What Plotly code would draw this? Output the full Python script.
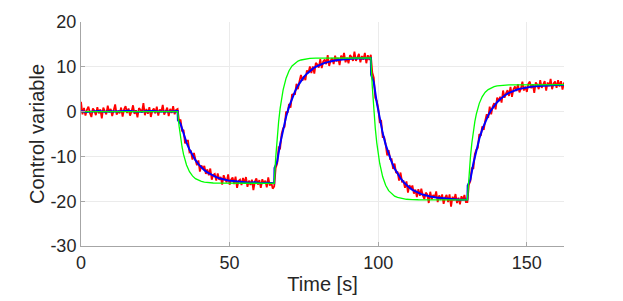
import numpy as np
import plotly.graph_objects as go

# ---- data ----
# noisy measured signal (red), sampled every 0.5 s from 0 to 162.5 s
red_t = np.arange(0, 162.75, 0.5)
red_s1 = [2.2, -0.6, 0.8, -0.9, 0.4, 1.1, -0.3, -1.2, 0.7, 0.2,
          -0.8, 1.0, -0.4, 0.5, -1.5, 0.9, 0.1, -0.6, 1.3, -0.2,
          0.6, -1.0, 0.3, 1.6, -0.7, 0.2, -0.4, 0.9, -1.1, 0.5,
          1.2, -0.3, 0.7, -0.9, 0.0, 1.4, -0.5, 0.3, -1.3, 0.8,
          0.4, -0.2, 1.9, -0.8, 0.6, -0.5, 1.0, -1.2, 0.2, 0.7,
          -0.4, 1.1, -0.9, 0.5, -0.1, 1.5, -0.7, 0.3, 0.9, -1.0,
          0.6, -0.3, 1.2, -0.6, 0.4]
red_s2 = [0.6, -2.2, -1.8, -4.4, -4.1, -7.1, -6.5, -6.5, -9.1, -8.9,
          -10.7, -9.2, -10.7, -12.0, -10.9, -13.4, -12.0, -12.8, -12.1, -13.9,
          -12.9, -14.2, -12.7, -15.2, -14.1, -13.9, -15.4, -13.8, -15.2, -14.6,
          -16.3, -14.2, -15.1, -15.8, -14.0, -16.3, -15.2, -14.7, -16.2, -14.5,
          -17.0, -15.5, -15.2, -16.4, -14.8, -16.0, -14.6, -16.8, -15.4, -16.4,
          -15.2, -17.5, -15.6, -14.9, -16.3, -15.3, -17.0, -15.1, -16.1, -15.4,
          -16.9, -14.7, -16.5, -15.8, -17.2]
red_s3 = [-16.7, -12.6, -11.6, -8.0, -8.2, -5.0, -3.7, -3.4, 0.0, -0.3,
          1.7, 0.9, 3.8, 3.9, 3.9, 6.2, 5.0, 6.8, 8.2, 6.9,
          7.9, 7.0, 9.2, 8.6, 10.1, 8.6, 10.1, 8.5, 10.9, 10.5,
          9.8, 11.7, 9.7, 11.2, 11.6, 10.6, 12.6, 10.2, 11.4, 11.9,
          10.6, 12.5, 11.2, 12.0, 10.4, 12.5, 11.6, 13.1, 11.0, 12.0,
          10.8, 12.6, 12.2, 11.3, 13.4, 11.3, 12.1, 12.9, 11.0, 12.4,
          11.6, 13.1, 10.8, 12.6, 11.5]
red_s4 = [12.7, 8.7, 7.6, 3.1, 2.4, 0.8, -2.3, -2.1, -5.7, -5.7,
          -7.3, -9.8, -8.6, -10.6, -10.6, -12.8, -11.6, -13.7, -13.4, -15.4,
          -13.6, -15.6, -15.5, -17.0, -15.6, -18.1, -16.4, -17.2, -16.5, -18.3,
          -17.4, -19.1, -17.3, -18.8, -17.2, -18.7, -19.5, -18.1, -18.5, -20.4,
          -17.9, -19.6, -18.6, -19.2, -17.8, -20.2, -18.7, -19.7, -18.5, -20.6,
          -19.2, -18.6, -20.2, -18.5, -21.2, -19.0, -19.8, -18.4, -20.4, -19.2,
          -20.7, -18.9, -19.8, -18.6, -20.2]
red_s5 = [-20.2, -16.3, -15.5, -12.5, -12.8, -9.5, -8.5, -8.1, -5.0, -5.4,
          -3.3, -4.1, -2.0, -0.6, -1.4, 1.1, -0.6, 1.1, 1.9, 0.5,
          3.1, 2.3, 3.3, 2.0, 4.7, 3.1, 4.1, 4.8, 3.5, 5.5,
          3.3, 5.0, 5.6, 4.6, 6.1, 4.3, 5.1, 6.7, 4.7, 5.6,
          4.4, 6.2, 6.7, 5.2, 6.1, 4.2, 6.5, 6.0, 5.0, 7.0,
          5.3, 6.0, 6.8, 4.7, 6.5, 5.7, 7.3, 5.0, 6.3, 6.7,
          5.3, 7.0, 5.6, 6.8, 4.9, 6.5]
red_y = red_s1 + red_s2 + red_s3 + red_s4 + red_s5

# filtered signal (blue)
blue_t = [0, 2, 4, 6, 8, 10, 12, 14, 16, 18, 20, 22, 24, 26, 28, 30, 32.5,
          32.6, 33.5, 34.5, 35.5, 36.5, 37.5, 38.5, 39.5, 40.5, 41.5, 42.5, 43.5,
          44.5, 45.5, 46.5, 47.5, 48.5, 49.5, 50.5, 51.5, 52.5, 54.5, 56.5, 58.5,
          60.5, 62.5, 65,
          65.1, 66, 67, 68, 69, 70, 71, 72, 73, 74, 75, 76, 77, 78, 79, 80, 81,
          82, 83, 84, 85, 87, 89, 91, 93, 95, 97.5,
          97.6, 98.5, 99.5, 100.5, 101.5, 102.5, 103.5, 104.5, 105.5, 106.5,
          107.5, 108.5, 109.5, 110.5, 111.5, 112.5, 113.5, 114.5, 115.5, 116.5,
          117.5, 119.5, 121.5, 123.5, 125.5, 127.5, 130,
          130.1, 131, 132, 133, 134, 135, 136, 137, 138, 139, 140, 141, 142, 143,
          144, 145, 146, 147, 148, 149, 150, 152, 154, 156, 158, 160, 162.5]
blue_y = [0.1, -0.1, 0.05, 0.15, -0.05, 0.1, 0.0, 0.1, 0.2, 0.05, -0.05, 0.1, 0.15, 0.0, 0.1, 0.05, 0.1,
          -1.9, -2.75, -5.02, -6.91, -8.48, -9.78, -10.85, -11.73, -12.46, -13.07, -13.57, -13.98,
          -14.34, -14.62, -14.86, -15.06, -15.22, -15.36, -15.46, -15.55, -15.63, -15.7, -15.9, -15.8,
          -16.0, -15.9, -16.0,
          -12.6, -11.18, -7.21, -3.90, -1.16, 1.11, 2.98, 4.52, 5.81, 6.88, 7.74, 8.47, 9.09, 9.59, 10.01, 10.35, 10.63,
          10.88, 11.05, 11.22, 11.36, 11.55, 11.69, 11.8, 11.9, 11.85, 11.95,
          8.2, 6.55, 2.05, -1.69, -4.80, -7.37, -9.49, -11.24, -12.69, -13.90,
          -14.88, -15.71, -16.40, -16.97, -17.45, -17.83, -18.15, -18.43, -18.62, -18.81,
          -18.97, -19.19, -19.35, -19.5, -19.55, -19.65, -19.6,
          -16.5, -15.22, -11.58, -8.56, -6.05, -3.97, -2.25, -0.84, 0.34, 1.31, 2.10, 2.77, 3.33, 3.80,
          4.18, 4.49, 4.74, 4.97, 5.13, 5.28, 5.41, 5.59, 5.72, 5.85, 5.9, 5.95, 5.95]

# reference model response (green)
green_t = [0, 32.5,
           33, 33.5, 34, 34.5, 35, 35.5, 36.5, 37.5, 38.5, 39.5, 40.5, 41.5, 42.5, 44.5, 46.5, 65,
           65.5, 66, 66.5, 67, 67.5, 68, 69, 70, 71, 72, 73, 74, 75, 77, 79, 97.5,
           98, 98.5, 99, 99.5, 100, 100.5, 101.5, 102.5, 103.5, 104.5, 105.5, 106.5, 107.5, 109.5, 111.5, 113.5, 130,
           130.5, 131, 131.5, 132, 132.5, 133, 134, 135, 136, 137, 138, 139, 140, 142, 144, 146, 162.5]
green_y = [0, 0,
           -3.25, -5.84, -7.90, -9.55, -10.86, -11.90, -13.41, -14.35, -14.96, -15.33, -15.58, -15.73, -15.82, -15.94, -15.97, -16,
           -10.32, -5.78, -2.17, 0.72, 3.01, 4.83, 7.46, 9.12, 10.18, 10.82, 11.27, 11.52, 11.69, 11.89, 11.94, 12,
           5.56, 0.43, -3.66, -6.92, -9.52, -11.58, -14.56, -16.43, -17.64, -18.37, -18.88, -19.16, -19.35, -19.57, -19.64, -19.68, -19.7,
           -14.48, -10.32, -7.00, -4.36, -2.25, -0.58, 1.84, 3.35, 4.33, 4.92, 5.33, 5.56, 5.72, 5.90, 5.95, 5.98, 6]

x_ticks = [0, 50, 100, 150]
x_labels = ["0", "50", "100", "150"]
y_ticks = [-30, -20, -10, 0, 10, 20]
y_labels = ["-30", "-20", "-10", "0", "10", "20"]

# ---- figure ----
fig = go.Figure()
fig.add_trace(go.Scatter(x=red_t, y=red_y, mode="lines",
                         line=dict(color="#ff0000", width=1.8), hoverinfo="skip"))
fig.add_trace(go.Scatter(x=blue_t, y=blue_y, mode="lines",
                         line=dict(color="#0000ff", width=2), hoverinfo="skip"))
fig.add_trace(go.Scatter(x=green_t, y=green_y, mode="lines",
                         line=dict(color="#00ff00", width=1.3), hoverinfo="skip"))

axis_common = dict(
    showgrid=True, gridcolor="#ebebeb", gridwidth=1,
    showline=True, linecolor="#a6a6a6", linewidth=1,
    ticks="inside", ticklen=4, tickcolor="#a6a6a6",
    zeroline=False, automargin=False,
    tickfont=dict(size=18, color="#262626"),
)

# the page body adds an 8 px offset, so the figure is sized to fit the window
fig.update_layout(
    width=615, height=293,
    margin=dict(l=73, r=59, t=14, b=55),
    plot_bgcolor="white", paper_bgcolor="white",
    showlegend=False,
    font=dict(family="Liberation Sans, Arial, sans-serif", size=18, color="#262626"),
    xaxis=dict(range=[0, 162.5], tickvals=x_ticks, ticktext=x_labels,
               title=dict(text="Time [s]", font=dict(size=20), standoff=5),
               **axis_common),
    yaxis=dict(range=[-30, 20], tickvals=y_ticks, ticktext=y_labels,
               title=dict(text="Control variable", font=dict(size=20), standoff=0),
               **axis_common),
)

fig.write_html("out.html")
